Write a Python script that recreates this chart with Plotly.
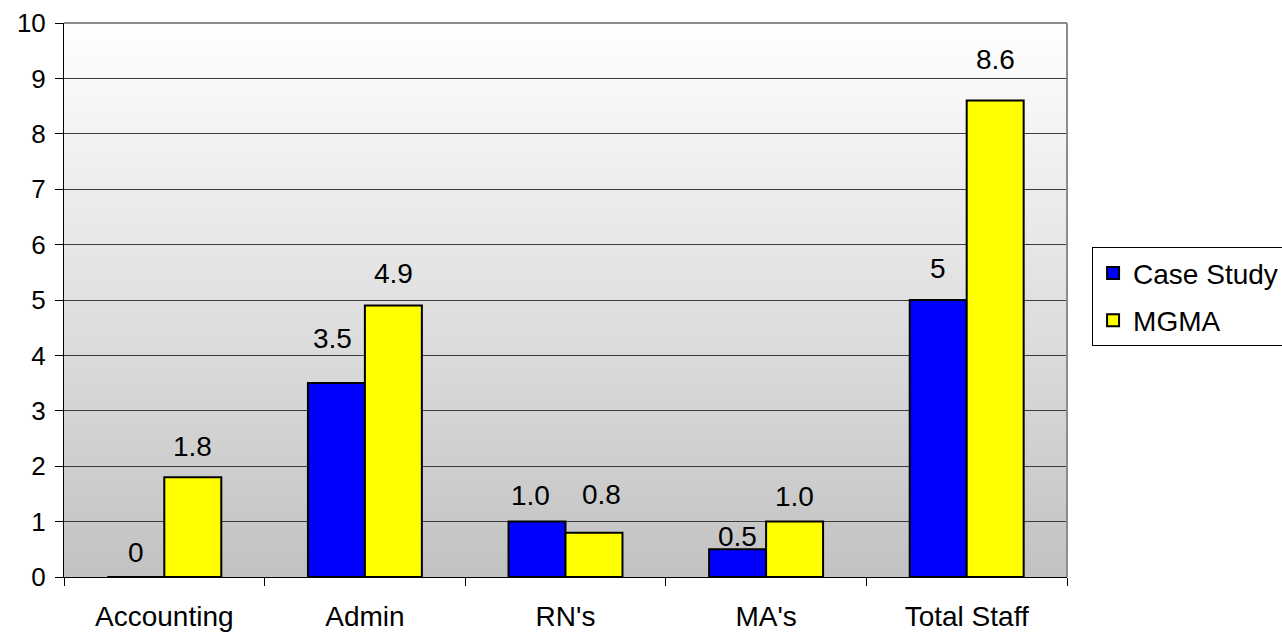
import base64
import struct
import zlib

import plotly.graph_objects as go

# Staffing per physician: case study practice vs. MGMA benchmark
categories = ["Accounting", "Admin", "RN's", "MA's", "Total Staff"]
case_study = [0, 3.5, 1.0, 0.5, 5]
mgma = [1.8, 4.9, 0.8, 1.0, 8.6]
# decimals shown in each data label
case_decimals = [0, 1, 1, 1, 0]
mgma_decimals = [1, 1, 1, 1, 1]
y_ticks = list(range(0, 11))

# label placement (pixels above the bar top, horizontal nudge)
case_label_lift = [25, 45, 26, 13, 32]
mgma_label_lift = [31, 32, 38, 25, 41]
case_label_nudge = [0, -4, -7, 0, 0]
mgma_label_nudge = [0, 0, 8, 0, 0]

FONT = "Liberation Sans, Arial, sans-serif"
TEXT_SIZE = 28
TICK_SIZE = 26
BARGAP = 0.432


def gradient_png(top=(255, 255, 255), bottom=(194, 194, 194), height=256):
    """Vertical 1-px-wide gradient as a PNG data URI."""
    rows = b""
    for i in range(height):
        t = i / (height - 1)
        px = bytes(round(a + (b - a) * t) for a, b in zip(top, bottom))
        rows += b"\x00" + px
    def chunk(tag, data):
        c = struct.pack(">I", len(data)) + tag + data
        return c + struct.pack(">I", zlib.crc32(tag + data) & 0xFFFFFFFF)
    png = b"\x89PNG\r\n\x1a\n"
    png += chunk(b"IHDR", struct.pack(">IIBBBBB", 1, height, 8, 2, 0, 0, 0))
    png += chunk(b"IDAT", zlib.compress(rows))
    png += chunk(b"IEND", b"")
    return "data:image/png;base64," + base64.b64encode(png).decode()


fig = go.Figure()
fig.add_trace(go.Bar(
    name="Case Study", x=categories, y=case_study, legendgroup="case",
    marker=dict(color="#0000FF", line=dict(color="#000000", width=2)),
))
fig.add_trace(go.Bar(
    name="MGMA", x=categories, y=mgma, legendgroup="mgma",
    marker=dict(color="#FFFF00", line=dict(color="#000000", width=2)),
))

# value labels above each bar
offset = (1 - BARGAP) / 4
for series, decimals, lift, nudge, side in (
    (case_study, case_decimals, case_label_lift, case_label_nudge, -1),
    (mgma, mgma_decimals, mgma_label_lift, mgma_label_nudge, 1),
):
    for i, v in enumerate(series):
        fig.add_annotation(
            x=i + side * offset, y=v, xref="x", yref="y",
            text=f"{v:.{decimals[i]}f}", showarrow=False,
            yanchor="middle", xanchor="center",
            yshift=lift[i], xshift=nudge[i],
            font=dict(family=FONT, size=TEXT_SIZE, color="#000000"),
        )

# plot-area gradient fill
fig.add_layout_image(
    source=gradient_png(), xref="x domain", yref="y domain",
    x=0, y=1, sizex=1, sizey=1, xanchor="left", yanchor="top",
    sizing="stretch", layer="below",
)
# grey frame on top and right of plot area
fig.add_shape(type="line", xref="x domain", yref="y domain",
              x0=0, x1=1, y0=1, y1=1, line=dict(color="#8c8c8c", width=2))
fig.add_shape(type="line", xref="x domain", yref="y domain",
              x0=1, x1=1, y0=0, y1=1, line=dict(color="#8c8c8c", width=2))

fig.update_layout(
    width=1282, height=632,
    margin=dict(l=64, r=215, t=23, b=55, autoexpand=False),
    paper_bgcolor="#FFFFFF", plot_bgcolor="rgba(0,0,0,0)",
    barmode="group", bargap=BARGAP, bargroupgap=0,
    font=dict(family=FONT, size=TEXT_SIZE, color="#000000"),
    showlegend=True,
    legend=dict(
        x=1.025, y=0.506, xanchor="left", yanchor="middle",
        bgcolor="#FFFFFF", bordercolor="#000000", borderwidth=1,
        font=dict(family=FONT, size=TEXT_SIZE, color="#000000"),
        tracegroupgap=8,
    ),
    xaxis=dict(
        showline=True, linecolor="#000000", linewidth=1,
        ticks="outside", ticklen=8, tickcolor="#000000",
        tickson="boundaries", showgrid=False,
        ticklabelstandoff=14,
        tickfont=dict(family=FONT, size=TEXT_SIZE),
    ),
    yaxis=dict(
        range=[0, 10], tickvals=y_ticks,
        showline=True, linecolor="#000000", linewidth=1,
        ticks="outside", ticklen=8, tickcolor="#000000",
        showgrid=True, gridcolor="#3c3c3c", gridwidth=1,
        zeroline=False, ticklabelstandoff=4,
        tickfont=dict(family=FONT, size=TICK_SIZE),
    ),
)

fig.write_html("out.html")
